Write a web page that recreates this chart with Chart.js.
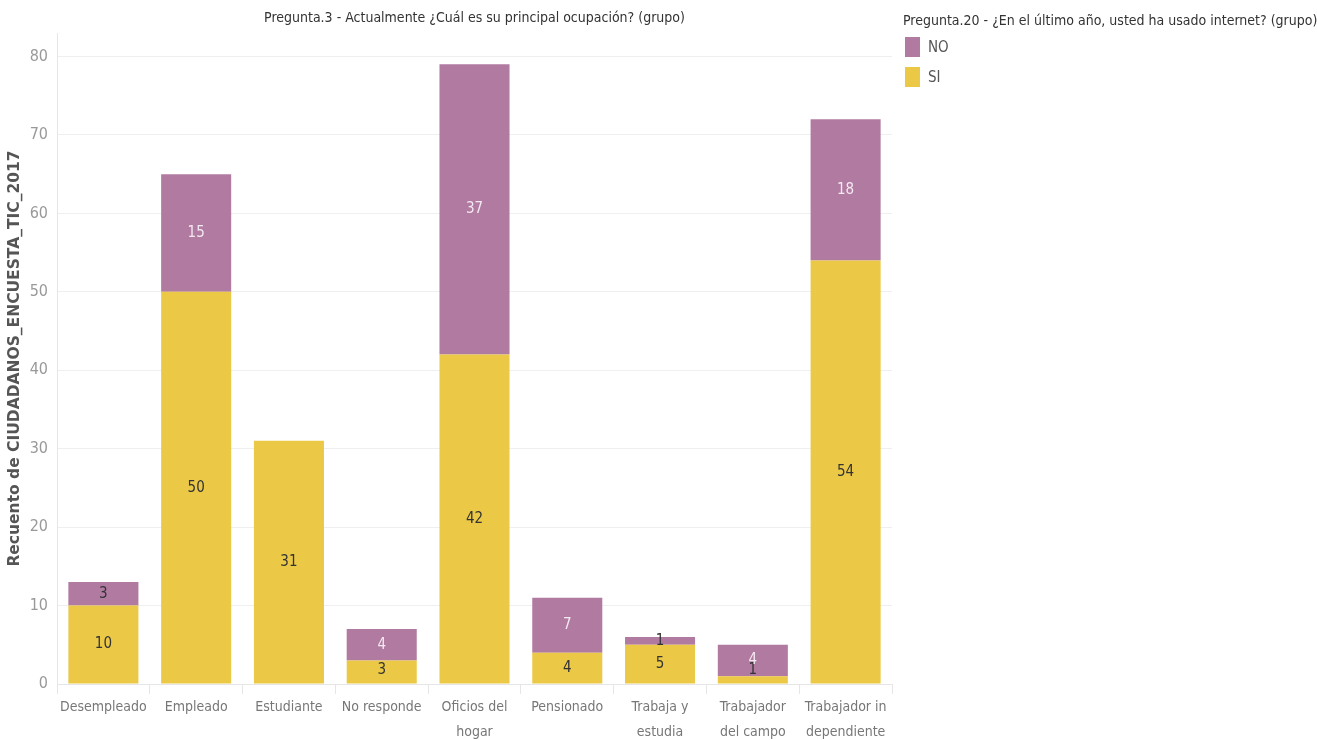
<!DOCTYPE html>
<html>
<head>
<meta charset="utf-8">
<script src="https://cdn.jsdelivr.net/npm/chart.js@4.4.1/dist/chart.umd.min.js"></script>
<style>
  html, body { margin: 0; padding: 0; background: #fff; }
  body { width: 1317px; height: 740px; position: relative; overflow: hidden;
         font-family: "Liberation Sans Narrow", "DejaVu Sans Condensed", "Noto Sans", sans-serif; }
  #wrap { position: absolute; left: 0; top: 0; width: 1317px; height: 740px; }
  #title { position: absolute; top: 9px; left: 57px; width: 835px; text-align: center;
           font-size: 14px; color: #333; white-space: nowrap; }
  #legend { position: absolute; left: 903px; top: 12px; color: #333; font-size: 14px; white-space: nowrap; }
  #legend .items { margin-top: 4px; }
  #legend .item { display: flex; align-items: center; height: 30px; color: #555; font-size: 15px; }
  #legend .sw { width: 15px; height: 20px; margin: 0 8px 0 2px; }
</style>
</head>
<body>
<div id="wrap"><canvas id="chart" width="1317" height="740"></canvas></div>
<div id="title">Pregunta.3 - Actualmente ¿Cuál es su principal ocupación? (grupo)</div>
<div id="legend">
  <div>Pregunta.20 - ¿En el último año, usted ha usado internet? (grupo)</div>
  <div class="items">
    <div class="item"><span class="sw" style="background:#B07AA1"></span>NO</div>
    <div class="item"><span class="sw" style="background:#EBC947"></span>SI</div>
  </div>
</div>
<script>
const categories = [
  'Desempleado', 'Empleado', 'Estudiante', 'No responde', ['Oficios del', 'hogar'],
  'Pensionado', ['Trabaja y', 'estudia'], ['Trabajador', 'del campo'], ['Trabajador in', 'dependiente']
];
const siValues = [10, 50, 31, 3, 42, 4, 5, 1, 54];
const noValues = [3, 15, 0, 4, 37, 7, 1, 4, 18];

const FONT = '"Liberation Sans Narrow", "DejaVu Sans Condensed", "Noto Sans", sans-serif';

// values written in the middle of each stacked segment
const segmentLabels = {
    id: 'segmentLabels',
    afterDatasetsDraw(chart) {
        const ctx = chart.ctx;
        ctx.save();
        ctx.font = '15px ' + FONT;
        ctx.textAlign = 'center';
        ctx.textBaseline = 'middle';
        chart.data.datasets.forEach((ds, i) => {
            chart.getDatasetMeta(i).data.forEach((bar, j) => {
                const v = ds.data[j];
                if (!v) return;
                const { x, y, base } = bar.getProps(['x', 'y', 'base'], true);
                const h = base - y;
                const cy = Math.min((y + base) / 2, chart.chartArea.bottom - 14);
                ctx.fillStyle = (ds.label === 'NO' && h >= 28) ? '#f4e8f1' : '#333';
                ctx.fillText(String(v), x, cy);
            });
        });
        ctx.restore();
    }
};

new Chart(document.getElementById('chart'), {
    type: 'bar',
    data: {
        labels: categories,
        datasets: [
            { label: 'SI', data: siValues, backgroundColor: '#EBC947', stack: 's',
              categoryPercentage: 1, barPercentage: 0.755 },
            { label: 'NO', data: noValues, backgroundColor: '#B07AA1', stack: 's',
              categoryPercentage: 1, barPercentage: 0.755 }
        ]
    },
    options: {
        responsive: false,
        animation: false,
        layout: { padding: { top: 33, right: 425, left: 0, bottom: 0 } },
        plugins: { legend: { display: false }, tooltip: { enabled: false } },
        scales: {
            x: {
                stacked: true,
                grid: { offset: true, drawOnChartArea: false, tickLength: 10, color: '#e6e6e6' },
                border: { color: '#e6e6e6' },
                ticks: { color: '#777', font: { family: FONT, size: 14, lineHeight: 1.85 }, padding: 0, maxRotation: 0, autoSkip: false },
                afterFit(scale) { scale.height = 56; }
            },
            y: {
                stacked: true,
                min: 0,
                max: 83,
                afterBuildTicks(scale) { scale.ticks = scale.ticks.filter(t => t.value % 10 === 0); },
                ticks: { stepSize: 10, color: '#999', font: { family: FONT, size: 16 }, padding: 9 },
                grid: { color: '#efefef', tickLength: 0 },
                border: { color: '#e6e6e6' },
                title: { display: true, text: 'Recuento de CIUDADANOS_ENCUESTA_TIC_2017', color: '#555',
                         font: { family: '"DejaVu Sans", sans-serif', size: 15.5, weight: 'bold' }, padding: { top: 6, bottom: 0 } },
                afterFit(scale) { scale.width = 57; }
            }
        }
    },
    plugins: [segmentLabels]
});
</script>
</body>
</html>
